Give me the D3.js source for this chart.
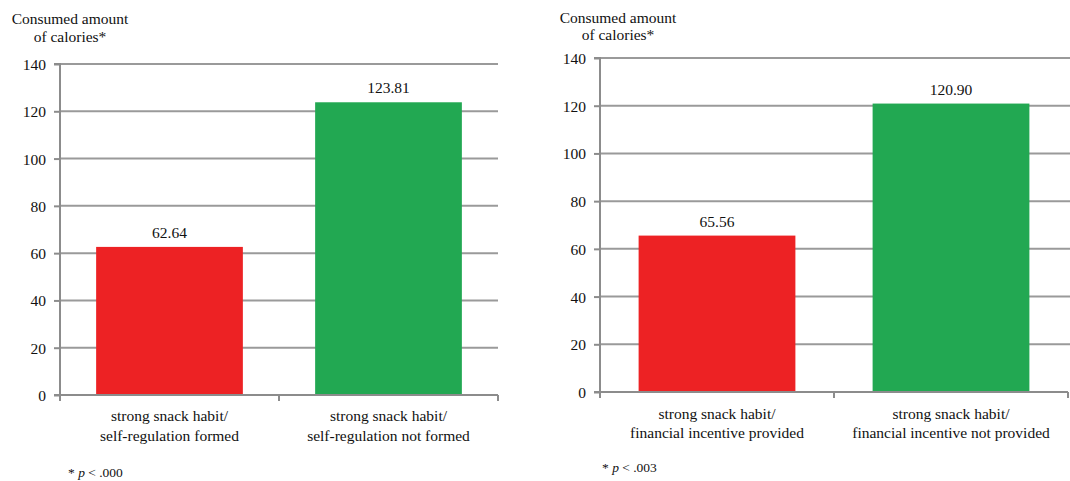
<!DOCTYPE html>
<html>
<head>
<meta charset="utf-8">
<script src="https://cdn.jsdelivr.net/npm/d3@7"></script>
<style>
  html, body { margin: 0; padding: 0; background: #fff; }
</style>
</head>
<body>
<svg id="chart" width="1070" height="481" style="font-family: 'Liberation Serif', 'Times New Roman', Times, 'DejaVu Serif', serif;"></svg>
<script>
// ---- data ----
const yTicks = [0, 20, 40, 60, 80, 100, 120, 140];
const leftCategories = ["strong snack habit/\nself-regulation formed", "strong snack habit/\nself-regulation not formed"];
const leftValues = [62.64, 123.81];
const leftNote = "p < .000";
const rightCategories = ["strong snack habit/\nfinancial incentive provided", "strong snack habit/\nfinancial incentive not provided"];
const rightValues = [65.56, 120.90];
const rightNote = "p < .003";
const barColors = ["#ED2224", "#22A852"];
const titleLines = ["Consumed amount", "of calories*"];

const FONT = "'Liberation Serif', 'Times New Roman', Times, 'DejaVu Serif', serif";
const svg = d3.select("#chart");

function txt(sel) {
  return sel.style("font-family", FONT).attr("fill", "#111");
}

function panel(cfg) {
  const g = svg.append("g");
  const x = d3.scaleBand().domain(cfg.categories).range([cfg.x0, cfg.x1]).paddingInner(0.33).paddingOuter(0.165);
  const y = d3.scaleLinear().domain([0, 140]).range([cfg.y0, cfg.y1]);

  // gridlines
  g.selectAll("line.grid").data(yTicks.filter(d => d > 0)).enter().append("line")
    .attr("x1", cfg.x0).attr("x2", cfg.gridEnd)
    .attr("y1", d => y(d)).attr("y2", d => y(d))
    .attr("stroke", "#9a9a9a").attr("stroke-width", 2);

  // bars
  g.selectAll("rect").data(cfg.values).enter().append("rect")
    .attr("x", (d, i) => x(cfg.categories[i]))
    .attr("width", x.bandwidth())
    .attr("y", d => y(d))
    .attr("height", d => y(0) - y(d))
    .attr("fill", (d, i) => barColors[i]);

  // value labels
  txt(g.selectAll("text.val").data(cfg.values).enter().append("text")
    .attr("x", (d, i) => x(cfg.categories[i]) + x.bandwidth() / 2)
    .attr("y", d => y(d) - 9)
    .attr("text-anchor", "middle").attr("font-size", 15.5)
    .text(d => d.toFixed(2)));

  // y axis
  const yAxis = d3.axisLeft(y).tickValues(yTicks).tickSize(6).tickPadding(8).tickFormat(d3.format("d"));
  const ya = g.append("g").attr("transform", `translate(${cfg.x0},0)`).call(yAxis);
  ya.attr("font-family", null);
  ya.select(".domain").attr("stroke", "#8c8c8c").attr("stroke-width", 2).attr("d", `M-6,${cfg.y1}H0V${cfg.y0}`);
  ya.selectAll(".tick line").attr("stroke", "#8c8c8c").attr("stroke-width", 2);
  txt(ya.selectAll(".tick text").attr("font-size", 15.5).attr("dy", "0.35em"));

  // x axis baseline and boundary ticks
  g.append("line").attr("x1", cfg.x0 - 6).attr("x2", cfg.x1)
    .attr("y1", y(0)).attr("y2", y(0)).attr("stroke", "#8c8c8c").attr("stroke-width", 2);
  const bounds = [cfg.x0, (cfg.x0 + cfg.x1) / 2, cfg.x1];
  g.selectAll("line.xt").data(bounds).enter().append("line")
    .attr("x1", d => d).attr("x2", d => d)
    .attr("y1", y(0)).attr("y2", y(0) + 6)
    .attr("stroke", "#8c8c8c").attr("stroke-width", 2);

  // category labels
  cfg.categories.forEach((c, i) => {
    const t = txt(g.append("text").attr("text-anchor", "middle").attr("font-size", 15.5)
      .attr("x", x(c) + x.bandwidth() / 2));
    c.split("\n").forEach((line, j) => {
      t.append("tspan").attr("x", x(c) + x.bandwidth() / 2).attr("y", cfg.catY[j]).text(line);
    });
  });

  // title
  titleLines.forEach((line, j) => {
    txt(g.append("text").attr("x", cfg.titleX).attr("y", cfg.titleY[j])
      .attr("text-anchor", "middle").attr("font-size", 15.5).text(line));
  });

  // footnote
  const fn = txt(g.append("text").attr("x", cfg.noteX).attr("y", cfg.noteY).attr("font-size", 13.5));
  fn.append("tspan").text("* ");
  fn.append("tspan").attr("font-style", "italic").text(cfg.note.split(" ")[0]);
  fn.append("tspan").text(" " + cfg.note.split(" ").slice(1).join(" "));
}

panel({
  categories: leftCategories, values: leftValues, note: leftNote,
  x0: 60, x1: 498, gridEnd: 498, y0: 395, y1: 64,
  catY: [421, 441], titleX: 70, titleY: [24, 42], noteX: 68, noteY: 477
});
panel({
  categories: rightCategories, values: rightValues, note: rightNote,
  x0: 600, x1: 1068, gridEnd: 1070, y0: 392, y1: 58,
  catY: [419, 438], titleX: 618, titleY: [23, 40], noteX: 602, noteY: 472
});
</script>
</body>
</html>
